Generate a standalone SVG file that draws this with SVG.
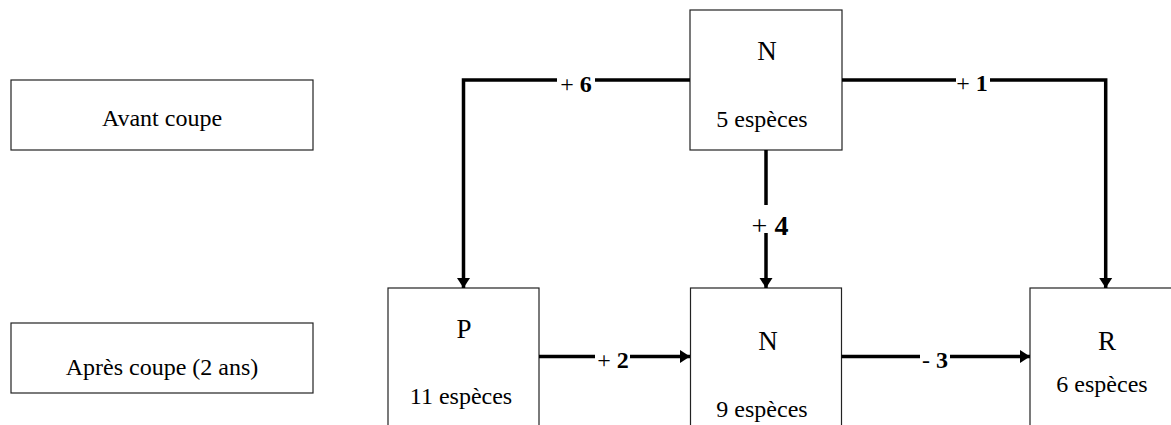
<svg xmlns="http://www.w3.org/2000/svg" width="1171" height="425" viewBox="0 0 1171 425">
<style>
.box{fill:#fff;stroke:#222;stroke-width:1.2}
.t{font-family:"Liberation Serif",serif;font-size:24px;fill:#000;text-anchor:middle}
.big{font-size:27px}
.conn{fill:none;stroke:#000;stroke-width:3.5}
.lbl{font-family:"Liberation Serif",serif;font-size:24px;fill:#000;text-anchor:middle}
.b{font-weight:bold}
.bg{fill:#fff}
</style>
<defs>
<marker id="ah" markerUnits="userSpaceOnUse" markerWidth="12" markerHeight="14" refX="10" refY="7" orient="auto">
<path d="M0,0.5 L10,7 L0,13.5 Z" fill="#000"/>
</marker>
</defs>
<g id="avant"><rect class="box" x="11" y="80" width="302" height="70"/><text class="t" x="162" y="126">Avant coupe</text></g>
<g id="apres"><rect class="box" x="11" y="323" width="302" height="70"/><text class="t" x="162" y="375">Après coupe (2 ans)</text></g>
<g id="n-top"><rect class="box" x="690" y="10" width="152" height="140"/><text class="t big" x="767" y="60">N</text><text class="t" x="762" y="127">5 espèces</text></g>
<g id="p"><rect class="box" x="388" y="288" width="151" height="160"/><text class="t big" x="464" y="338">P</text><text class="t" x="461" y="404">11 espèces</text></g>
<g id="n-bot"><rect class="box" x="690.5" y="288" width="151" height="160"/><text class="t big" x="768" y="350">N</text><text class="t" x="762" y="417">9 espèces</text></g>
<g id="r"><rect class="box" x="1030" y="288" width="160" height="160"/><text class="t big" x="1107" y="350">R</text><text class="t" x="1102" y="392">6 espèces</text></g>
<g id="connectors">
<path class="conn" d="M690,80 H463.5 V288" marker-end="url(#ah)"/>
<path class="conn" d="M842,80 H1105.7 V288" marker-end="url(#ah)"/>
<path class="conn" d="M766,150 V288" marker-end="url(#ah)"/>
<path class="conn" d="M539,356.5 H690" marker-end="url(#ah)"/>
<path class="conn" d="M841.5,356.5 H1030" marker-end="url(#ah)"/>
<rect class="bg" x="557" y="74" width="38" height="14"/>
<text class="lbl" x="576" y="91.5"><tspan>+ </tspan><tspan class="b">6</tspan></text>
<rect class="bg" x="956" y="74" width="34" height="14"/>
<text class="lbl" x="972" y="90.5"><tspan>+ </tspan><tspan class="b">1</tspan></text>
<rect class="bg" x="758" y="205" width="16" height="28"/>
<text class="lbl" x="770" y="235" style="font-size:28px"><tspan>+ </tspan><tspan class="b">4</tspan></text>
<rect class="bg" x="595" y="350" width="35" height="14"/>
<text class="lbl" x="613" y="368"><tspan>+ </tspan><tspan class="b">2</tspan></text>
<rect class="bg" x="920" y="350" width="30" height="14"/>
<text class="lbl" x="935" y="368"><tspan>- </tspan><tspan class="b">3</tspan></text>
</g>
</svg>
